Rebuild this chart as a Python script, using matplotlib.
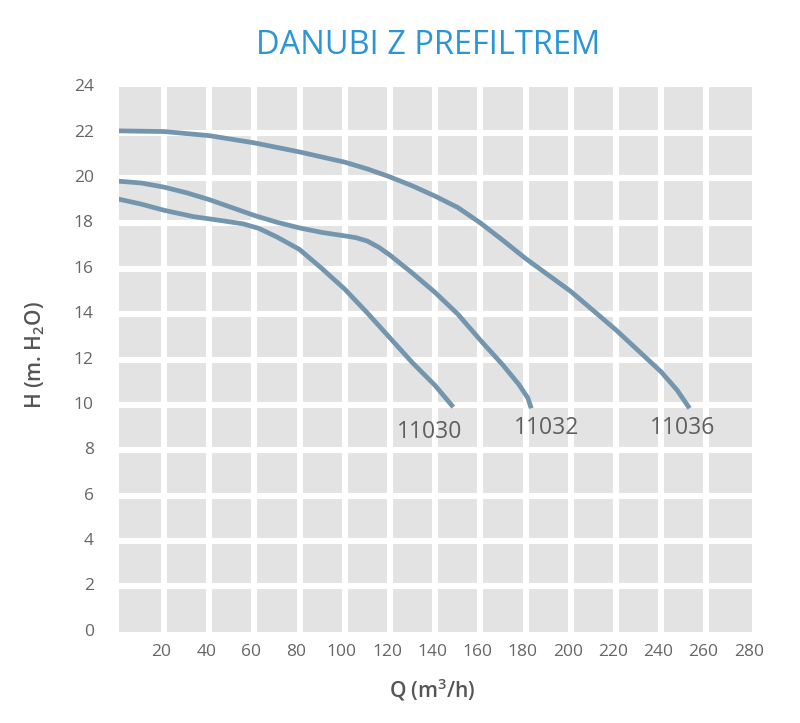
import matplotlib
matplotlib.use("Agg")
import matplotlib.pyplot as plt
import matplotlib.transforms as mtransforms

# ---- data ----
title = "DANUBI Z PREFILTREM"
q_11030 = [0, 10, 20, 33, 45, 55, 62, 70, 80, 90, 100, 110, 120, 130, 140, 148]
h_11030 = [19.07, 18.85, 18.58, 18.3, 18.13, 17.98, 17.78, 17.4, 16.85, 16.0, 15.1, 14.05, 12.95, 11.85, 10.85, 9.9]
q_11032 = [0, 10, 20, 30, 40, 50, 60, 70, 80, 90, 100, 105, 110, 115, 120, 130, 140, 150, 160, 170, 177, 181, 182.5]
h_11032 = [19.86, 19.78, 19.6, 19.35, 19.05, 18.7, 18.35, 18.05, 17.8, 17.6, 17.45, 17.37, 17.22, 16.95, 16.6, 15.8, 14.95, 14.0, 12.85, 11.75, 10.9, 10.3, 9.85]
q_11036 = [0, 20, 40, 60, 80, 100, 110, 120, 130, 140, 150, 160, 170, 180, 200, 220, 240, 247, 252.5]
h_11036 = [22.08, 22.05, 21.87, 21.55, 21.15, 20.7, 20.4, 20.05, 19.65, 19.2, 18.7, 18.02, 17.25, 16.45, 15.0, 13.3, 11.45, 10.65, 9.85]
series_names = ["11030", "11032", "11036"]
label_pos = [(137.7, 8.8), (189.5, 8.98), (249.6, 8.98)]
x_ticks = [20, 40, 60, 80, 100, 120, 140, 160, 180, 200, 220, 240, 260, 280]
y_ticks = [0, 2, 4, 6, 8, 10, 12, 14, 16, 18, 20, 22, 24]

plt.rcParams['font.family'] = ['Open Sans', 'DejaVu Sans']
plt.rcParams['mathtext.default'] = 'regular'

fig = plt.figure(figsize=(8, 7.23), dpi=100)
ax = fig.add_axes([118.7/800, (723-631.7)/723, 633/800, 544.4/723])
ax.set_facecolor('#e3e3e3')
ax.set_xlim(0, 280)
ax.set_ylim(0, 24)
for s in ax.spines.values():
    s.set_visible(False)

for x in range(20, 280, 20):
    ax.axvline(x, color='white', lw=4.4, zorder=1)
for y in range(2, 24, 2):
    ax.axhline(y, color='white', lw=4.4, zorder=1)

line_color = '#7395ad'
for q, h in [(q_11030, h_11030), (q_11032, h_11032), (q_11036, h_11036)]:
    ax.plot(q, h, color=line_color, lw=3.4, solid_capstyle='butt',
            solid_joinstyle='round', zorder=3)

for name, (lx, ly) in zip(series_names, label_pos):
    ax.text(lx, ly, name, ha='center', va='center', fontsize=16.5, color='#5f5f5f', zorder=4)

ax.set_xticks(x_ticks)
ax.set_yticks(y_ticks)
ax.tick_params(length=0, labelsize=12.5, labelcolor='#666666')
ax.tick_params(axis='x', pad=9)
ax.tick_params(axis='y', pad=18)
off_y = mtransforms.ScaledTranslation(0, 2/100, fig.dpi_scale_trans)
for lab in ax.get_yticklabels():
    lab.set_transform(lab.get_transform() + off_y)
off_x = mtransforms.ScaledTranslation(-3/100, 0, fig.dpi_scale_trans)
for lab in ax.get_xticklabels():
    lab.set_transform(lab.get_transform() + off_x)

fig.text(428/800, 1 - 45/723, title, ha='center', va='center', fontsize=23.5, color='#2b95d6')
fig.text(432/800, 1 - 690/723, 'Q (m$^3$/h)', ha='center', va='center', fontsize=15, color='#555555', fontweight='semibold')
fig.text(35/800, 1 - 355/723, 'H (m. H$_2$O)', ha='center', va='center', rotation=90, fontsize=15, color='#555555', fontweight='semibold')

fig.savefig('out.png', dpi=100)
